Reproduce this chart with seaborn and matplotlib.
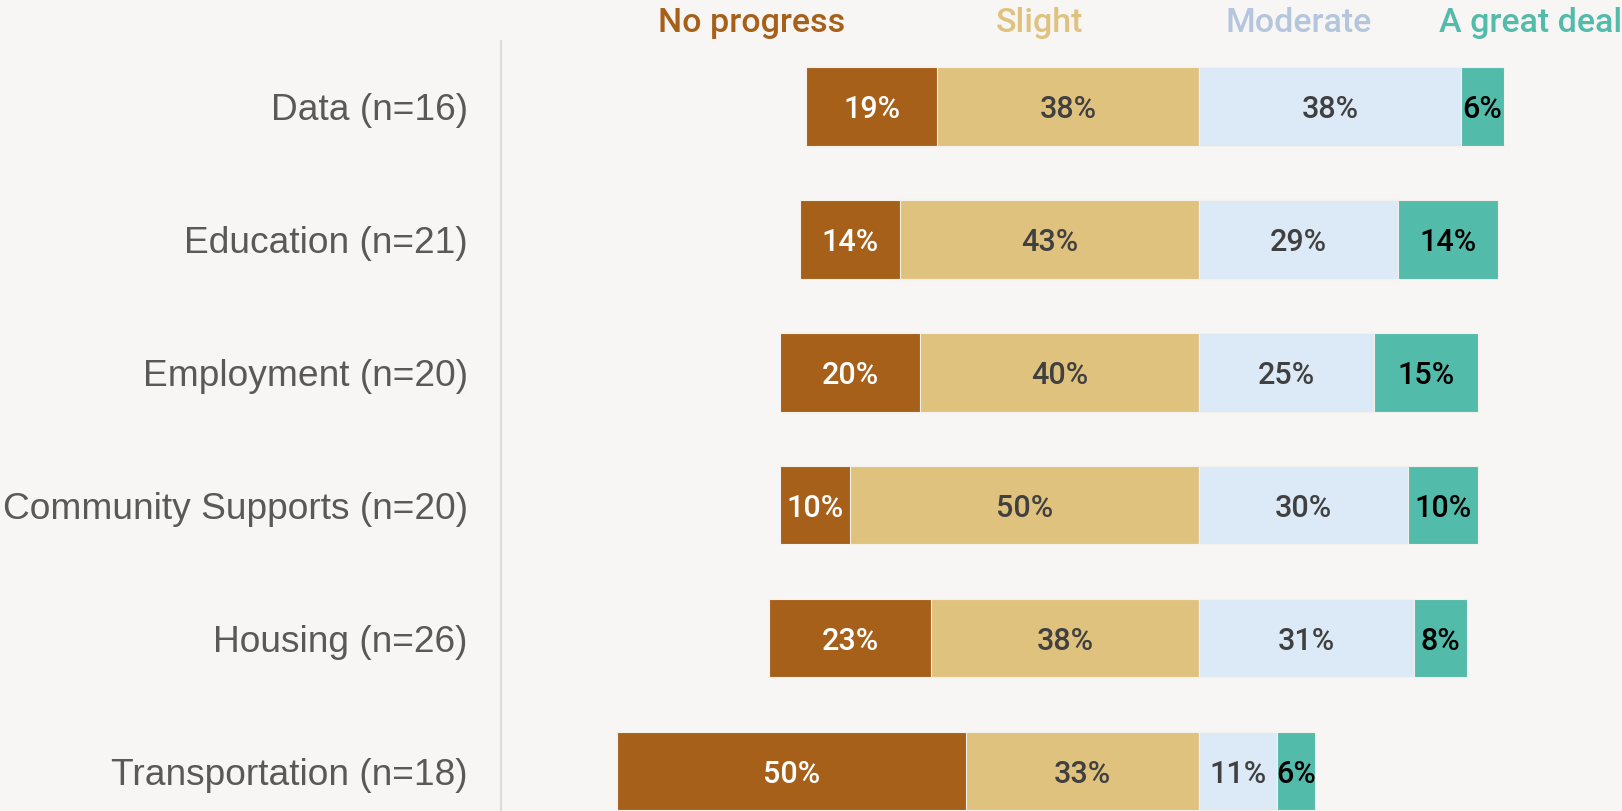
import matplotlib
matplotlib.use("Agg")
import matplotlib.pyplot as plt
import seaborn as sns
import pandas as pd
import numpy as np

categories = ["Data (n=16)", "Education (n=21)", "Employment (n=20)",
              "Community Supports (n=20)", "Housing (n=26)", "Transportation (n=18)"]
no_progress = [18.75, 14.29, 20.0, 10.0, 23.08, 50.0]
slight = [37.5, 42.86, 40.0, 50.0, 38.46, 33.33]
moderate = [37.5, 28.57, 25.0, 30.0, 30.77, 11.11]
great_deal = [6.25, 14.29, 15.0, 10.0, 7.69, 5.56]
series_names = ["No progress", "Slight", "Moderate", "A great deal"]

BG = "#F7F6F4"
C_NO = "#A6601A"
C_SL = "#E0C27F"
C_MO = "#DCE9F6"
C_GD = "#52BBAA"
C_MO_LEG = "#B4C6DD"

sns.set_theme(style="white")
plt.rcParams["font.family"] = ["Roboto", "DejaVu Sans"]

df = pd.DataFrame({
    "cat": categories,
    "np": no_progress, "sl": slight, "mo": moderate, "gd": great_deal,
})
df["left_outer"] = -(df["np"] + df["sl"])
df["left_inner"] = -df["sl"]
df["right_outer"] = df["mo"] + df["gd"]
df["right_inner"] = df["mo"]

W, H = 1622, 811
fig = plt.figure(figsize=(W / 100, H / 100), dpi=100, facecolor=BG)
ax = fig.add_axes([501 / W, 0, 1 - 501 / W, 770 / H])
ax.set_facecolor(BG)

kw = dict(data=df, y="cat", orient="h", width=0.59, saturation=1,
          edgecolor="#F4F1EA", linewidth=0.8, ax=ax, order=categories)
sns.barplot(x="left_outer", color=C_NO, **kw)
sns.barplot(x="left_inner", color=C_SL, **kw)
sns.barplot(x="right_outer", color=C_GD, **kw)
sns.barplot(x="right_inner", color=C_MO, **kw)

def fmt(v):
    return f"{int(np.floor(v + 0.5))}%"

lab_kw = dict(ha="center", va="center_baseline", fontsize=22, fontweight="medium",
              family=["Roboto", "DejaVu Sans"])
for i, row in df.iterrows():
    ax.text(-(row["sl"] + row["np"] / 2), i, fmt(row["np"]), color="white", **lab_kw)
    ax.text(-row["sl"] / 2, i, fmt(row["sl"]), color="#404040", **lab_kw)
    ax.text(row["mo"] / 2, i, fmt(row["mo"]), color="#404040", **lab_kw)
    ax.text(row["mo"] + row["gd"] / 2, i, fmt(row["gd"]), color="black", **lab_kw)

ax.set_xlim(-100, 60.6)
ax.set_ylim(5.30, -0.493)
ax.set_xlabel("")
ax.set_ylabel("")
ax.set_xticks([])
for s in ["top", "right", "bottom"]:
    ax.spines[s].set_visible(False)
ax.spines["left"].set_color("#DDDDDD")
ax.spines["left"].set_linewidth(1.5)
ax.tick_params(axis="y", length=0, pad=24)
for t in ax.get_yticklabels():
    t.set_family(["Liberation Sans", "DejaVu Sans"])
    t.set_fontsize(26.75)
    t.set_color("#595959")

leg_x = [658, 996, 1226, 1439]
leg_c = [C_NO, C_SL, C_MO_LEG, C_GD]
for name, x, c in zip(series_names, leg_x, leg_c):
    fig.text(x / W, 1 - 32.3 / H, name, color=c, ha="left", va="baseline",
             fontsize=24.5, fontweight="medium", family=["Roboto", "DejaVu Sans"])

fig.savefig("out.png", dpi=100, facecolor=BG)
